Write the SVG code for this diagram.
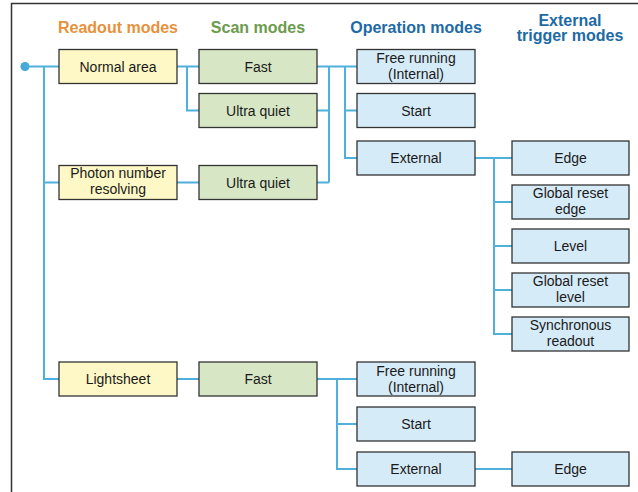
<svg xmlns="http://www.w3.org/2000/svg" width="638" height="492" viewBox="0 0 638 492">
<style>
  .box{stroke:#333;stroke-width:1.3}
  .ro{fill:#fdf8c5}
  .sc{fill:#d7e7c5}
  .op{fill:#d6ebf8}
  .t{font-family:"Liberation Sans",Arial,sans-serif;font-size:14px;fill:#1a1a1a;text-anchor:middle}
  .h{font-family:"Liberation Sans",Arial,sans-serif;font-size:16px;font-weight:bold;text-anchor:middle}
  .c{fill:none;stroke:#4fb0dc;stroke-width:2}
</style>
<rect width="638" height="492" fill="#fff"/>
<path d="M11.5,492 V3.5 H638" fill="none" stroke="#333" stroke-width="1.5"/>

<g id="headers">
  <text class="h" x="118" y="33" fill="#e8913c">Readout modes</text>
  <text class="h" x="258" y="33" fill="#6b9b4c">Scan modes</text>
  <text class="h" x="416" y="33" fill="#1d6aa5">Operation modes</text>
  <text class="h" x="570" y="25.5" fill="#1d6aa5">External</text>
  <text class="h" x="570" y="41" fill="#1d6aa5">trigger modes</text>
</g>

<g id="connectors">
  <circle cx="25" cy="66.5" r="4.5" fill="#45a8d6"/>
  <path class="c" d="M25,66.5 H59 M44,66.5 V379 H59 M44,182.5 H59"/>
  <path class="c" d="M177,66.5 H199 M187,66.5 V110.5 H199 M177,182.5 H199"/>
  <path class="c" d="M317,66.5 H357 M317,110.5 H329 M317,182.5 H329 M329,66.5 V182.5"/>
  <path class="c" d="M345,66.5 V158 H357 M345,110.5 H357"/>
  <path class="c" d="M475,158 H512 M494,158 V334 H512 M494,202 H512 M494,246 H512 M494,290 H512"/>
  <path class="c" d="M177,379 H199 M317,379 H357 M337,379 V469 H357 M337,424 H357 M475,469 H512"/>
</g>

<g id="n-normal"><rect class="box ro" x="59" y="49.5" width="118" height="34"/><text class="t" x="118" y="71.5">Normal area</text></g>
<g id="n-photon"><rect class="box ro" x="59" y="165.5" width="118" height="34"/><text class="t" x="118" y="178">Photon number</text><text class="t" x="118" y="194">resolving</text></g>
<g id="n-light"><rect class="box ro" x="59" y="362" width="118" height="34"/><text class="t" x="118" y="384">Lightsheet</text></g>

<g id="n-fast1"><rect class="box sc" x="199" y="49.5" width="118" height="34"/><text class="t" x="258" y="71.5">Fast</text></g>
<g id="n-uq1"><rect class="box sc" x="199" y="93.5" width="118" height="34"/><text class="t" x="258" y="115.5">Ultra quiet</text></g>
<g id="n-uq2"><rect class="box sc" x="199" y="165.5" width="118" height="34"/><text class="t" x="258" y="187.5">Ultra quiet</text></g>
<g id="n-fast2"><rect class="box sc" x="199" y="362" width="118" height="34"/><text class="t" x="258" y="384">Fast</text></g>

<g id="n-free1"><rect class="box op" x="357" y="49.5" width="118" height="34"/><text class="t" x="416" y="63">Free running</text><text class="t" x="416" y="79">(Internal)</text></g>
<g id="n-start1"><rect class="box op" x="357" y="93.5" width="118" height="34"/><text class="t" x="416" y="115.5">Start</text></g>
<g id="n-ext1"><rect class="box op" x="357" y="141" width="118" height="34"/><text class="t" x="416" y="163">External</text></g>

<g id="n-edge1"><rect class="box op" x="512" y="141" width="117" height="34"/><text class="t" x="570.5" y="163">Edge</text></g>
<g id="n-gre"><rect class="box op" x="512" y="185" width="117" height="34"/><text class="t" x="570.5" y="198">Global reset</text><text class="t" x="570.5" y="214">edge</text></g>
<g id="n-level"><rect class="box op" x="512" y="229" width="117" height="34"/><text class="t" x="570.5" y="251">Level</text></g>
<g id="n-grl"><rect class="box op" x="512" y="273" width="117" height="34"/><text class="t" x="570.5" y="286">Global reset</text><text class="t" x="570.5" y="302">level</text></g>
<g id="n-sync"><rect class="box op" x="512" y="317" width="117" height="34"/><text class="t" x="570.5" y="330">Synchronous</text><text class="t" x="570.5" y="346">readout</text></g>

<g id="n-free2"><rect class="box op" x="357" y="362" width="118" height="34"/><text class="t" x="416" y="375.5">Free running</text><text class="t" x="416" y="391.5">(Internal)</text></g>
<g id="n-start2"><rect class="box op" x="357" y="407" width="118" height="34"/><text class="t" x="416" y="429">Start</text></g>
<g id="n-ext2"><rect class="box op" x="357" y="452" width="118" height="34"/><text class="t" x="416" y="474">External</text></g>
<g id="n-edge2"><rect class="box op" x="512" y="452" width="117" height="34"/><text class="t" x="570.5" y="474">Edge</text></g>
</svg>
